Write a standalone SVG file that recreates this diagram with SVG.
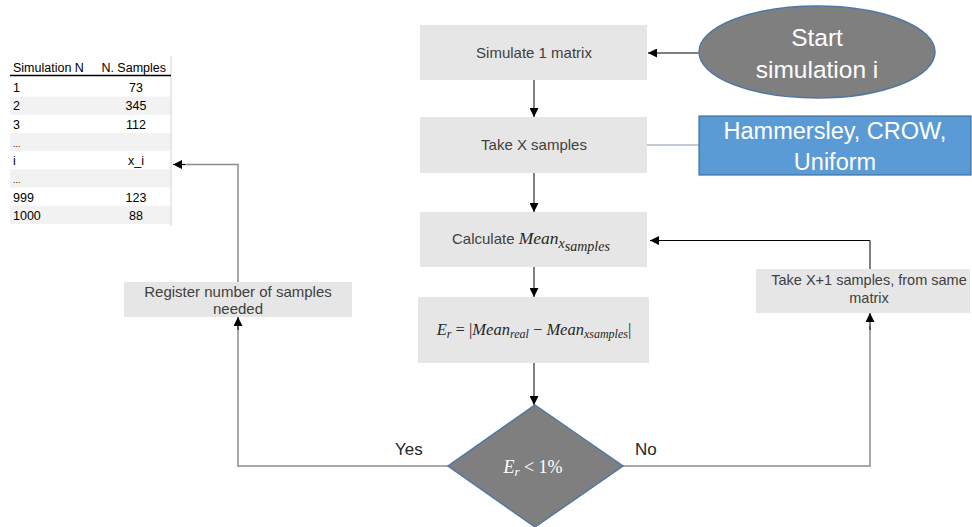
<svg xmlns="http://www.w3.org/2000/svg" width="972" height="527" viewBox="0 0 972 527">
  <defs>
    <marker id="arrow" viewBox="0 0 10 10" refX="10" refY="5" markerWidth="9" markerHeight="9" markerUnits="userSpaceOnUse" orient="auto">
      <path d="M0,0 L10,5 L0,10 Z" fill="#000"/>
    </marker>
    <style>
      .box { fill: #e7e6e6; }
      .label { font-family: "Liberation Sans", Arial, sans-serif; fill: #404040; font-size: 15px; }
      .big { font-family: "Liberation Sans", Arial, sans-serif; fill: #ffffff; }
      .math { font-family: "Liberation Serif", "Times New Roman", serif; font-style: italic; fill: #262626; }
      .tbl { font-family: "Liberation Sans", Arial, sans-serif; font-size: 12.5px; fill: #000; }
      .row { fill: #f2f2f2; }
      .dark { fill: none; stroke: #000; stroke-width: 1; }
      .grey { fill: none; stroke: #8c8c8c; stroke-width: 1.5; }
      .yn { font-family: "Liberation Sans", Arial, sans-serif; font-size: 17px; fill: #262626; }
    </style>
  </defs>

  <rect width="972" height="527" fill="#ffffff"/>

  <!-- results table -->
  <g id="results-table">
    <rect class="row" x="10" y="96.6" width="161" height="18.2"/>
    <rect class="row" x="10" y="133" width="161" height="18.2"/>
    <rect class="row" x="10" y="169.3" width="161" height="18.2"/>
    <rect class="row" x="10" y="205.7" width="161" height="18.2"/>
    <line x1="171" y1="56" x2="171" y2="226" stroke="#d4d4d4" stroke-width="1"/>
    <line x1="10" y1="75.5" x2="171" y2="75.5" stroke="#000" stroke-width="1.5"/>
    <text class="tbl" x="13" y="72">Simulation N</text>
    <text class="tbl" x="166" y="72" text-anchor="end">N. Samples</text>
    <g class="tbl">
      <text x="13" y="92">1</text><text x="136" y="92" text-anchor="middle">73</text>
      <text x="13" y="110">2</text><text x="136" y="110" text-anchor="middle">345</text>
      <text x="13" y="128.5">3</text><text x="136" y="128.5" text-anchor="middle">112</text>
      <text x="13" y="146.5" style="font-size:9px">...</text>
      <text x="13" y="165">i</text><text x="136" y="165" text-anchor="middle">x_i</text>
      <text x="13" y="183" style="font-size:9px">...</text>
      <text x="13" y="201.5">999</text><text x="136" y="201.5" text-anchor="middle">123</text>
      <text x="13" y="219.5">1000</text><text x="136" y="219.5" text-anchor="middle">88</text>
    </g>
  </g>

  <!-- connectors -->
  <g id="connectors">
    <line class="dark" x1="699" y1="53" x2="648" y2="53" marker-end="url(#arrow)"/>
    <line class="dark" x1="534" y1="80" x2="534" y2="117" marker-end="url(#arrow)"/>
    <line x1="647" y1="145" x2="699" y2="145" stroke="#8497b0" stroke-width="1.2"/>
    <line class="dark" x1="534" y1="173" x2="534" y2="212" marker-end="url(#arrow)"/>
    <line class="dark" x1="534" y1="267" x2="534" y2="297" marker-end="url(#arrow)"/>
    <line class="dark" x1="534" y1="363" x2="534" y2="405" marker-end="url(#arrow)"/>
    <polyline class="grey" points="448,466 238,466 238,326"/>
    <line class="dark" x1="238" y1="330" x2="238" y2="317" marker-end="url(#arrow)"/>
    <polyline class="grey" points="623,466 870,466 870,326"/>
    <line class="dark" x1="870" y1="330" x2="870" y2="313" marker-end="url(#arrow)"/>
    <polyline class="grey" points="238,282 238,164.5 182,164.5"/>
    <line class="dark" x1="185" y1="164.5" x2="173" y2="164.5" marker-end="url(#arrow)"/>
    <polyline class="dark" points="870,269 870,240.5 650,240.5" marker-end="url(#arrow)"/>
    <text class="yn" x="395" y="455">Yes</text>
    <text class="yn" x="635" y="455">No</text>
  </g>

  <g id="start">
    <ellipse cx="817" cy="52" rx="118" ry="46" fill="#7f7f7f" stroke="#4f77a6" stroke-width="1.5"/>
    <text class="big" x="817" y="46" style="font-size:24.5px" text-anchor="middle">Start</text>
    <text class="big" x="817" y="78" style="font-size:24.5px" text-anchor="middle">simulation i</text>
  </g>

  <g id="simulate">
    <rect class="box" x="420" y="25" width="227" height="55"/>
    <text class="label" x="534" y="58" text-anchor="middle">Simulate 1 matrix</text>
  </g>

  <g id="take-samples">
    <rect class="box" x="420" y="117" width="227" height="56"/>
    <text class="label" x="534" y="150" text-anchor="middle">Take X samples</text>
  </g>

  <g id="methods">
    <rect x="699" y="116" width="272" height="59" fill="#5b9bd5" stroke="#41719c" stroke-width="1.2"/>
    <text class="big" x="835" y="139" style="font-size:23.5px" text-anchor="middle">Hammersley, CROW,</text>
    <text class="big" x="835" y="170" style="font-size:23.5px" text-anchor="middle">Uniform</text>
  </g>

  <g id="calculate">
    <rect class="box" x="420" y="212" width="227" height="55"/>
    <text x="452" y="244"><tspan class="label">Calculate </tspan><tspan class="math" style="font-size:17.5px">Mean</tspan><tspan class="math" style="font-size:14px" dy="4">x</tspan><tspan class="math" style="font-size:14px" dy="3">samples</tspan></text>
  </g>

  <g id="error">
    <rect class="box" x="418" y="297" width="231" height="66"/>
    <text class="math" x="534" y="335" style="font-size:16.5px" text-anchor="middle">E<tspan style="font-size:12px" dy="3">r</tspan><tspan style="font-style:normal" dy="-3"> = |</tspan>Mean<tspan style="font-size:12px" dy="3">real</tspan><tspan style="font-style:normal" dy="-3"> − </tspan>Mean<tspan style="font-size:12px" dy="3">xsamples</tspan><tspan style="font-style:normal" dy="-3">|</tspan></text>
  </g>

  <g id="register">
    <rect class="box" x="124" y="282" width="228" height="35"/>
    <text class="label" x="238" y="297" text-anchor="middle">Register number of samples</text>
    <text class="label" x="238" y="314" text-anchor="middle">needed</text>
  </g>

  <g id="take-more">
    <rect class="box" x="756" y="269" width="214" height="44"/>
    <text class="label" x="869" y="285" style="font-size:14.5px" text-anchor="middle">Take X+1 samples, from same</text>
    <text class="label" x="869" y="303" style="font-size:14.5px" text-anchor="middle">matrix</text>
  </g>

  <g id="check">
    <polygon points="535,405 623,466 535,527 448,466" fill="#7f7f7f" stroke="#4f77a6" stroke-width="1.5"/>
    <text class="math" x="533" y="473" style="font-size:18px;fill:#ffffff" text-anchor="middle">E<tspan style="font-size:13px" dy="3">r</tspan><tspan style="font-style:normal" dy="-3"> &lt; 1%</tspan></text>
  </g>
</svg>
